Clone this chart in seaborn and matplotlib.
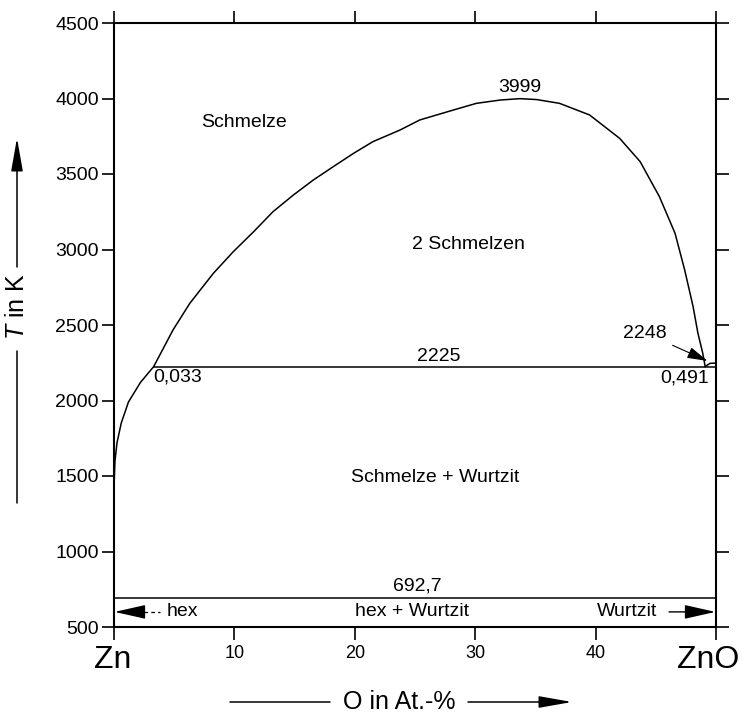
import matplotlib
matplotlib.use("Agg")
import matplotlib.pyplot as plt
import matplotlib.transforms as mtransforms
import numpy as np
import pandas as pd
import seaborn as sns

# ---------------- data ----------------
# Zn-rich liquidus (L1 boundary below the monotectic)
ZN_LIQ_X = [0.0, 0.0, 0.02, 0.08, 0.25, 0.6, 1.2, 2.2, 3.3]
ZN_LIQ_T = [692.7, 1380, 1470, 1600, 1720, 1850, 1990, 2120, 2225]

# liquid miscibility gap (2 Schmelzen)
GAP_X = [3.3, 4.9, 6.3, 8.25, 9.9, 11.6, 13.2, 14.9, 16.55, 18.2, 19.9, 21.5,
         23.75, 25.4, 26.8, 28.2, 30.1, 32.1, 33.7, 35.1, 37.0, 39.5, 42.0,
         43.7, 45.3, 46.6, 47.4, 48.1, 48.5, 48.9, 49.1]
GAP_T = [2225, 2467, 2644, 2842, 2985, 3118, 3250, 3361, 3460, 3548, 3637, 3714,
         3791, 3858, 3891, 3924, 3968, 3990, 3999, 3993, 3968, 3891, 3736,
         3582, 3350, 3107, 2864, 2621, 2445, 2313, 2225]

# ZnO-side liquidus (tiny triangle)
ZNO_LIQ_X = [49.1, 49.5, 50.0]
ZNO_LIQ_T = [2225, 2246, 2248]

# invariant lines
MONO_X = [3.3, 50.0]
MONO_T = [2225, 2225]
EUT_X = [0.0, 50.0]
EUT_T = [692.7, 692.7]

X_TICKS = [0, 10, 20, 30, 40, 50]
X_TICKLABELS = ["", "10", "20", "30", "40", ""]
END_LABELS = ["Zn", "ZnO"]
Y_TICKS = [500, 1000, 1500, 2000, 2500, 3000, 3500, 4000, 4500]

# ---------------- styling ----------------
sns.set_theme(style="ticks")
plt.rcParams["font.family"] = ["Liberation Sans", "DejaVu Sans"]
plt.rcParams["mathtext.fontset"] = "custom"
plt.rcParams["mathtext.it"] = "Liberation Sans:italic"
plt.rcParams["mathtext.rm"] = "Liberation Sans"

W, H = 744, 719
fig = plt.figure(figsize=(W / 100, H / 100), dpi=100)
ax = fig.add_axes([114 / W, 1 - 627 / H, (716 - 114) / W, (627 - 23) / H])

segs = []
for name, xs, ts in [("znliq", ZN_LIQ_X, ZN_LIQ_T), ("gap", GAP_X, GAP_T),
                     ("znoliq", ZNO_LIQ_X, ZNO_LIQ_T), ("mono", MONO_X, MONO_T),
                     ("eut", EUT_X, EUT_T)]:
    segs.append(pd.DataFrame({"x": xs, "T": ts, "seg": name}))
df = pd.concat(segs, ignore_index=True)

sns.lineplot(data=df, x="x", y="T", units="seg", estimator=None, sort=False,
             color="black", linewidth=1.1, ax=ax, legend=False)

ax.set_xlim(0, 50)
ax.set_ylim(500, 4500)
ax.set_xlabel("")
ax.set_ylabel("")
for s in ax.spines.values():
    s.set_visible(True)
    s.set_linewidth(1.5)
    s.set_color("black")

ax.set_xticks(X_TICKS)
ax.set_xticklabels(X_TICKLABELS)
ax.set_yticks(Y_TICKS)
ax.tick_params(axis="x", which="both", direction="out", length=9, width=1.2,
               top=True, bottom=True, labeltop=False, labelbottom=True,
               labelsize=13, pad=4, colors="black")
ax.tick_params(axis="y", which="both", direction="out", length=9, width=1.2,
               left=True, right=True, labelleft=True, labelright=False,
               labelsize=14, pad=2, colors="black")

# component names under the axis ends
btrans = mtransforms.blended_transform_factory(ax.transData, ax.transAxes)
ax.text(-0.1, -0.030, END_LABELS[0], transform=btrans, ha="center", va="top",
        fontsize=23, color="black")
ax.text(49.35, -0.030, END_LABELS[1], transform=btrans, ha="center", va="top",
        fontsize=23, color="black")

tkw = dict(color="black", fontsize=14)
ax.text(10.8, 3844, "Schmelze", ha="center", va="center", **tkw)
ax.text(29.4, 3030, "2 Schmelzen", ha="center", va="center", **tkw)
ax.text(26.7, 1487, "Schmelze + Wurtzit", ha="center", va="center", **tkw)
ax.text(33.7, 4015, "3999", ha="center", va="bottom", **tkw)
ax.text(27.0, 2237, "2225", ha="center", va="bottom", **tkw)
ax.text(3.3, 2210, "0,033", ha="left", va="top", **tkw)
ax.text(49.4, 2205, "0,491", ha="right", va="top", **tkw)
ax.text(25.2, 712, "692,7", ha="center", va="bottom", **tkw)
ax.text(5.65, 600, "hex", ha="center", va="center", **tkw)
ax.text(24.75, 600, "hex + Wurtzit", ha="center", va="center", **tkw)
ax.text(42.6, 600, "Wurtzit", ha="center", va="center", **tkw)

ax.annotate("2248", xy=(49.3, 2262), xytext=(44.1, 2447), ha="center", va="center",
            arrowprops=dict(arrowstyle="-|>,head_length=0.9,head_width=0.25",
                            color="black", lw=0.8, shrinkA=2, shrinkB=0),
            **tkw)

# phase-field arrows at the bottom
ax.annotate("", xy=(0.05, 600), xytext=(1.95, 600),
            arrowprops=dict(arrowstyle="-|>,head_length=1.6,head_width=0.36",
                            color="black", lw=1.0, shrinkA=0, shrinkB=0))
ax.plot([1.95, 3.8], [600, 600], color="black", lw=0.9, ls=(0, (3, 2.5)))
ax.annotate("", xy=(49.95, 600), xytext=(46.1, 600),
            arrowprops=dict(arrowstyle="-|>,head_length=1.6,head_width=0.36",
                            color="black", lw=1.0, shrinkA=0, shrinkB=0))

# axis titles with decorative arrows (figure pixels)
akw = dict(arrowstyle="-|>,head_length=1.7,head_width=0.3", color="black", lw=1.1,
           shrinkA=0, shrinkB=0)
lkw = dict(arrowstyle="-", color="black", lw=1.1, shrinkA=0, shrinkB=0)
fig.text(17 / W, 1 - 307 / H, "$T$ in K", rotation=90, ha="center", va="center",
         fontsize=18, color="black")
ax.annotate("", xy=(17, H - 138), xytext=(17, H - 267), xycoords="figure pixels",
            textcoords="figure pixels", arrowprops=akw)
ax.annotate("", xy=(17, H - 351), xytext=(17, H - 503), xycoords="figure pixels",
            textcoords="figure pixels", arrowprops=lkw)

fig.text(399 / W, 1 - 702 / H, "O in At.-%", ha="center", va="center",
         fontsize=18, color="black")
ax.annotate("", xy=(230, H - 702), xytext=(330, H - 702), xycoords="figure pixels",
            textcoords="figure pixels", arrowprops=lkw)
ax.annotate("", xy=(572, H - 702), xytext=(468, H - 702), xycoords="figure pixels",
            textcoords="figure pixels", arrowprops=akw)

fig.savefig("out.png", dpi=100, facecolor="white")
